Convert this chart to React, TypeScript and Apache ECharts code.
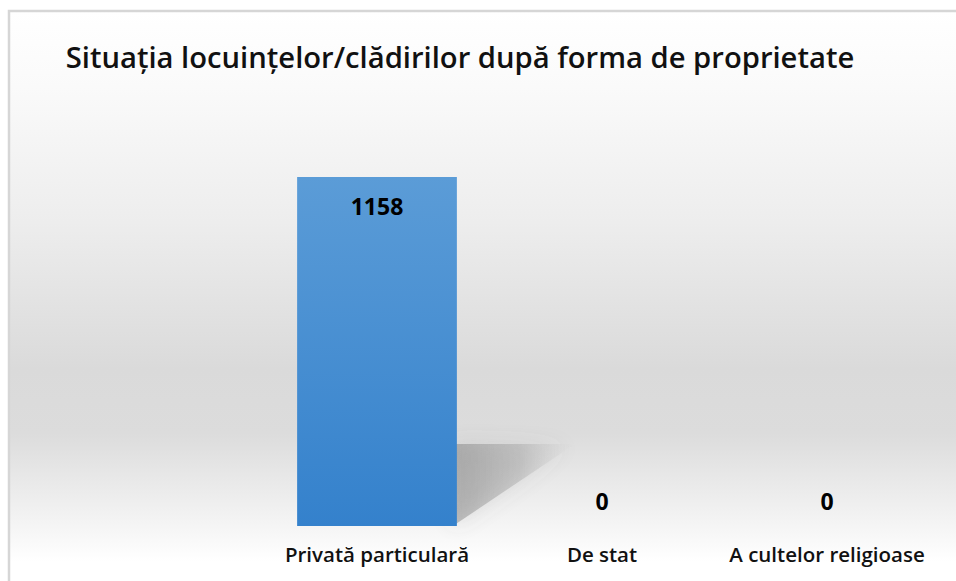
import React, { useEffect, useRef } from "react";
import * as echarts from "echarts";

const titleText = "Situația locuințelor/clădirilor după forma de proprietate";
const categories = ["Privată particulară", "De stat", "A cultelor religioase"];
const values = [1158, 0, 0];
const axisMax = 1400;

const FONT = "'Open Sans', 'DejaVu Sans', sans-serif";

export default function App() {
  const ref = useRef<HTMLDivElement>(null);
  useEffect(() => {
    if (!ref.current) return;
    const chart = echarts.init(ref.current, null, { renderer: "svg" });
    const barWidthRatio = 0.71;
    chart.setOption({
      animation: false,
      backgroundColor: "#ffffff",
      graphic: [
        {
          type: "rect",
          z: -10,
          shape: { x: 9, y: 11, width: 1000, height: 640 },
          style: {
            fill: new echarts.graphic.LinearGradient(0, 0, 0, 1, [
              { offset: 0, color: "#ffffff" },
              { offset: 0.12, color: "#fafafa" },
              { offset: 0.33, color: "#ededed" },
              { offset: 0.56, color: "#dadada" },
              { offset: 0.66, color: "#dcdcdc" },
              { offset: 0.8, color: "#f4f4f4" },
              { offset: 0.86, color: "#ffffff" },
              { offset: 1, color: "#ffffff" },
            ]),
            stroke: "#d6d6d6",
            lineWidth: 2.5,
          },
        },
        {
          type: "text",
          style: {
            text: titleText,
            x: 460,
            y: 57,
            align: "center",
            verticalAlign: "middle",
            font: `600 29.2px ${FONT}`,
            fill: "#111111",
          },
        },
      ],
      grid: { left: 264.5, right: 16.5, top: 104, bottom: 55, containLabel: false },
      xAxis: {
        type: "category",
        data: categories,
        axisLine: { show: false },
        axisTick: { show: false },
        axisLabel: {
          interval: 0,
          hideOverlap: false,
          margin: 17,
          color: "#111111",
          fontFamily: FONT,
          fontWeight: 600,
          fontSize: 20.5,
        },
      },
      yAxis: {
        type: "value",
        min: 0,
        max: axisMax,
        show: false,
        splitLine: { show: false },
      },
      series: [
        {
          type: "custom",
          z: 1,
          silent: true,
          data: values.map((v, i) => [i, v]),
          renderItem: (params: any, api: any) => {
            const idx = api.value(0);
            const v = api.value(1);
            if (!v) return null;
            const top = api.coord([idx, v]);
            const bottom = api.coord([idx, 0]);
            const bw = api.size([1, 0])[0] * barWidthRatio;
            const xr = bottom[0] + bw / 2;
            const h = bottom[1] - top[1];
            const sy = bottom[1] - h * 0.235;
            const sw = bw * 0.74;
            return {
              type: "polygon",
              shape: {
                points: [
                  [xr - 4, sy],
                  [xr + sw, sy],
                  [xr - 4, bottom[1]],
                ],
              },
              style: {
                fill: new echarts.graphic.LinearGradient(0, 0, 1, 0, [
                  { offset: 0, color: "rgba(110,110,110,0.42)" },
                  { offset: 0.55, color: "rgba(130,130,130,0.28)" },
                  { offset: 1, color: "rgba(170,170,170,0.0)" },
                ]),
                shadowBlur: 20,
                shadowColor: "rgba(110,110,110,0.45)",
              },
            };
          },
        },
        {
          type: "bar",
          z: 2,
          barWidth: "71%",
          data: values.map((v) => ({
            value: v,
            label:
              v > 0
                ? { show: true, position: "insideTop", distance: 18 }
                : { show: true, position: "top", distance: 14 },
          })),
          itemStyle: {
            color: new echarts.graphic.LinearGradient(0, 0, 0, 1, [
              { offset: 0, color: "#5b9cd7" },
              { offset: 1, color: "#3481cc" },
            ]),
          },
          label: {
            show: true,
            color: "#000000",
            fontFamily: FONT,
            fontWeight: 700,
            fontSize: 23,
          },
        },
      ],
    });
    return () => chart.dispose();
  }, []);
  return (
    <div
      ref={ref}
      style={{ position: "fixed", left: 0, top: 0, width: 956, height: 581 }}
    />
  );
}
